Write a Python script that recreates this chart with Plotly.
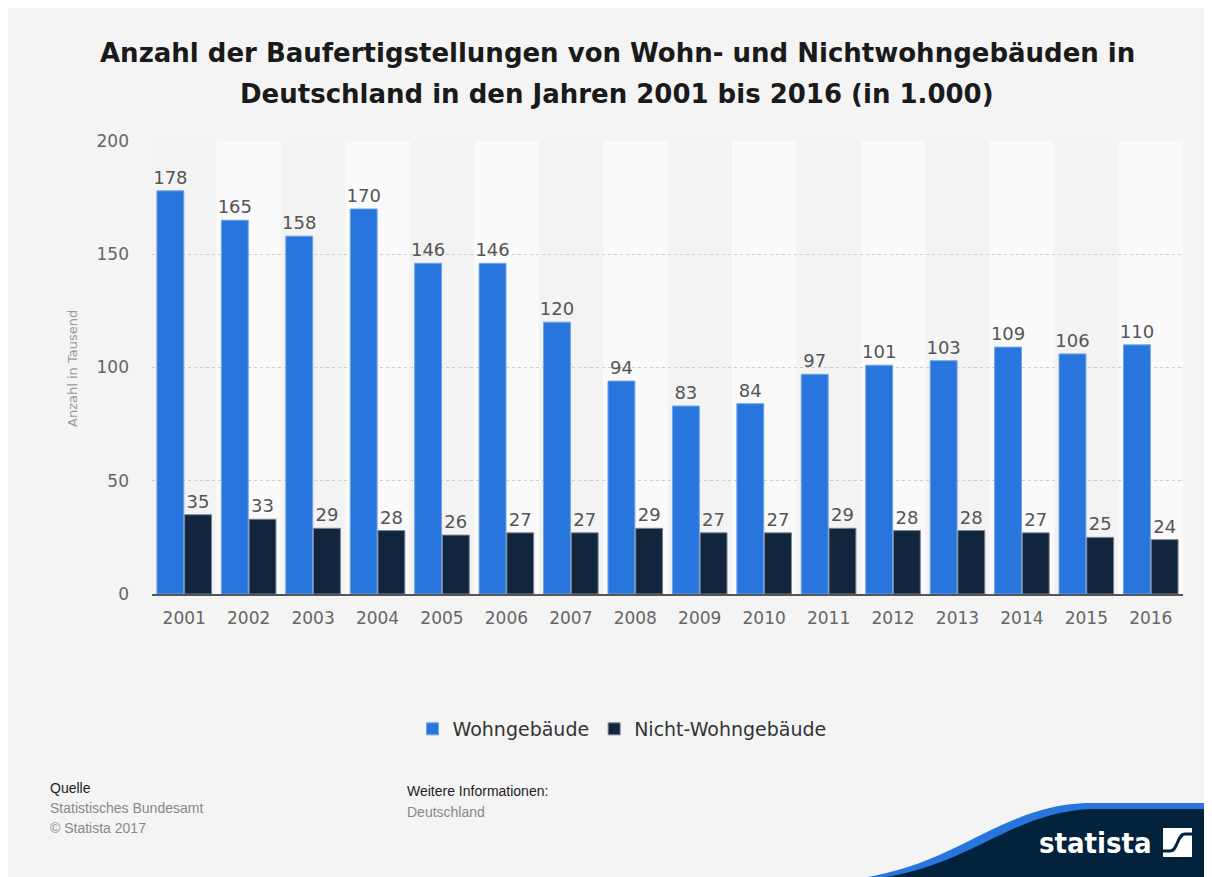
import plotly.graph_objects as go

years = [str(y) for y in range(2001, 2017)]
wohn = [178, 165, 158, 170, 146, 146, 120, 94, 83, 84, 97, 101, 103, 109, 106, 110]
nicht = [35, 33, 29, 28, 26, 27, 27, 29, 27, 27, 29, 28, 28, 27, 25, 24]
y_ticks = [0, 50, 100, 150, 200]

# page offset (body margin) and figure size
OX, OY = 8, 7
W, H = 1212 - OX, 877 - OY
# plot area in reference pixel coordinates
L, R, T, B = 152, 1183, 140, 593


def px(x):
    return (x - L) / (R - L)


def py(y):
    return (B - y) / (B - T)


fig = go.Figure()
fig.add_trace(go.Bar(
    x=years, y=wohn, name="Wohngebäude",
    marker=dict(color="#2876dd", line=dict(color="#6fa3ea", width=1)),
    text=wohn, textposition="outside", cliponaxis=False, constraintext="none",
    textfont=dict(family="DejaVu Sans", size=18, color="#555555"),
))
fig.add_trace(go.Bar(
    x=years, y=nicht, name="Nicht-Wohngebäude",
    marker=dict(color="#11263d", line=dict(color="#7a8490", width=1)),
    text=nicht, textposition="outside", cliponaxis=False, constraintext="none",
    textfont=dict(family="DejaVu Sans", size=18, color="#555555"),
))

shapes = []
for i in range(len(years)):
    if i % 2 == 0:
        shapes.append(dict(type="rect", xref="x", yref="paper", x0=i - 0.5, x1=i + 0.5,
                           y0=0, y1=1, fillcolor="#f3f3f3", line=dict(width=0), layer="below"))

blue_path = "M {},{} C {},{} {},{} {},{} L {},{} L {},{} L {},{} Z".format(
    px(862), py(877), px(960), py(862), px(1000), py(806), px(1085), py(802),
    px(1225), py(802), px(1225), py(880), px(862), py(880))
navy_path = "M {},{} C {},{} {},{} {},{} L {},{} L {},{} L {},{} Z".format(
    px(880), py(877), px(972), py(864), px(1010), py(812), px(1090), py(808),
    px(1225), py(808), px(1225), py(880), px(880), py(880))
shapes.append(dict(type="path", xref="paper", yref="paper", path=blue_path,
                   fillcolor="#2876dd", line=dict(width=0), layer="above"))
shapes.append(dict(type="path", xref="paper", yref="paper", path=navy_path,
                   fillcolor="#03233d", line=dict(width=0), layer="above"))
shapes.append(dict(type="rect", xref="paper", yref="paper", x0=px(1163), x1=px(1192), y0=py(856), y1=py(827),
                   fillcolor="#ffffff", line=dict(width=0), layer="above"))
icon_path = "M {},{} L {},{} C {},{} {},{} {},{} L {},{}".format(
    px(1163), py(850), px(1170), py(850), px(1178), py(850), px(1177), py(833), px(1185), py(833),
    px(1192), py(833))
shapes.append(dict(type="path", xref="paper", yref="paper", path=icon_path,
                   line=dict(color="#03233d", width=3), layer="above"))


def ann(text, x, y, size, color, family="DejaVu Sans", xanchor="left", **kw):
    return dict(text=text, xref="paper", yref="paper", x=px(x), y=py(y), xanchor=xanchor,
                yanchor="middle", showarrow=False, font=dict(family=family, size=size, color=color), **kw)


annotations = [
    ann("<b>Anzahl der Baufertigstellungen von Wohn- und Nichtwohngebäuden in</b>", 617, 52, 26, "#1a1a1a",
        xanchor="center"),
    ann("<b>Deutschland in den Jahren 2001 bis 2016 (in 1.000)</b>", 617, 93, 26, "#1a1a1a", xanchor="center"),
    ann("Anzahl in Tausend", 72, 368, 13, "#999999", xanchor="center", textangle=-90),
    ann("Quelle", 48, 787, 14, "#222222", family="Liberation Sans"),
    ann("Statistisches Bundesamt", 48, 807, 14, "#888888", family="Liberation Sans"),
    ann("© Statista 2017", 48, 827, 14, "#888888", family="Liberation Sans"),
    ann("Weitere Informationen:", 405, 790, 14, "#222222", family="Liberation Sans"),
    ann("Deutschland", 405, 811, 14, "#888888", family="Liberation Sans"),
    ann("<b>statista</b>", 1095, 842, 29, "#ffffff", family="DejaVu Sans Condensed, DejaVu Sans",
        xanchor="center"),
]

fig.update_layout(
    width=W, height=H,
    margin=dict(l=L - OX, r=(OX + W) - R, t=T - OY, b=(OY + H) - B, pad=0),
    paper_bgcolor="#f4f4f4",
    plot_bgcolor="#fafafa",
    barmode="group", bargap=0.14, bargroupgap=0.03,
    showlegend=True,
    legend=dict(orientation="h", x=px(622), xanchor="center", y=py(728), yanchor="middle",
                font=dict(family="DejaVu Sans", size=19, color="#333333"), bgcolor="rgba(0,0,0,0)",
                itemwidth=30, traceorder="normal"),
    shapes=shapes,
    annotations=annotations,
    font=dict(family="DejaVu Sans"),
)
fig.update_xaxes(
    type="category", showgrid=False, showline=True, linecolor="#555555", linewidth=2,
    tickfont=dict(family="DejaVu Sans", size=17, color="#666666"), ticks="", ticklabelstandoff=8,
)
fig.update_yaxes(
    range=[0, 200], tickvals=y_ticks, showgrid=True, gridcolor="#cccccc", griddash="dot", gridwidth=1,
    zeroline=False, showline=False,
    tickfont=dict(family="DejaVu Sans", size=17, color="#666666"), ticks="", ticklabelstandoff=22,
)

fig.write_html("out.html", post_script="document.body.style.overflow='hidden';")
